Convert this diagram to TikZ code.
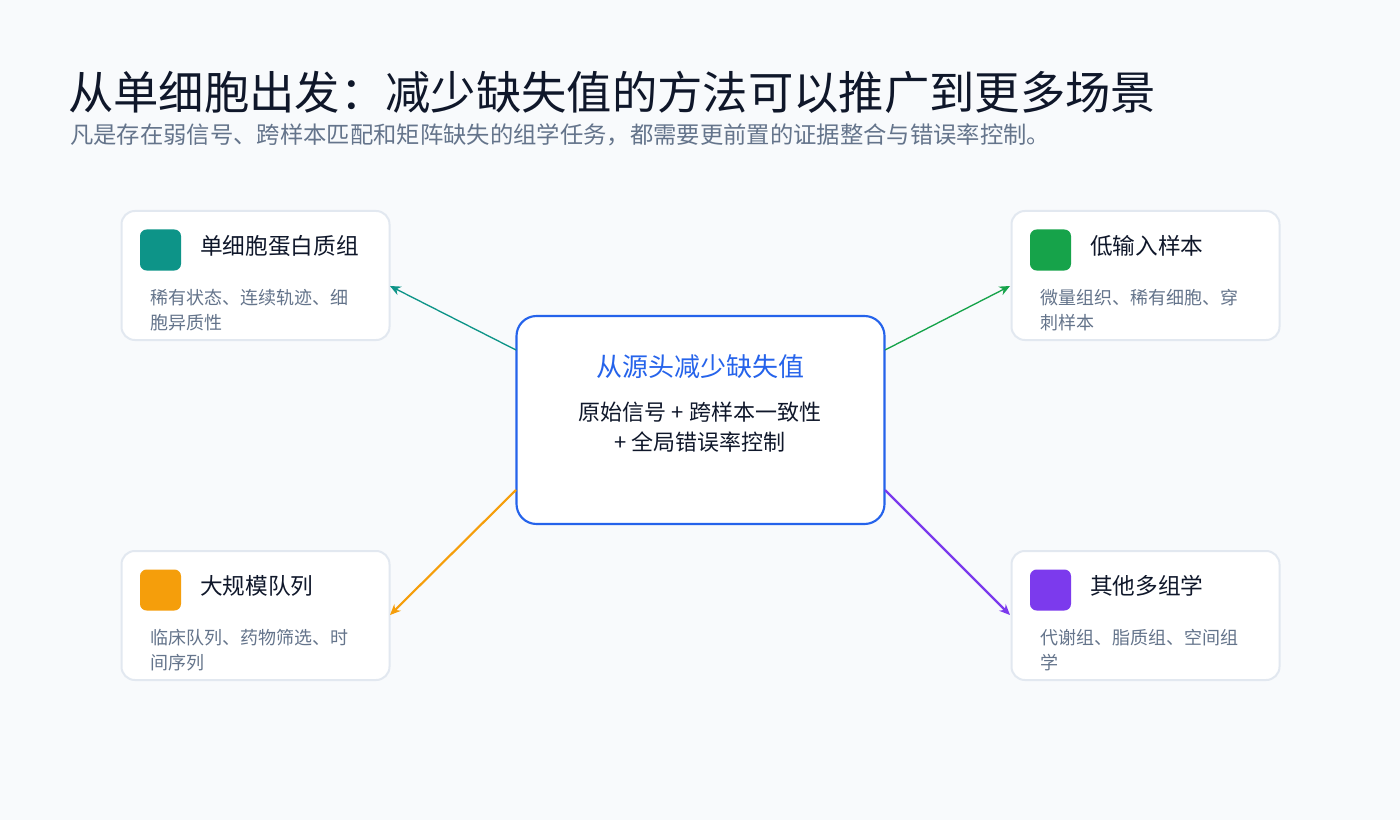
\documentclass[tikz,border=0pt]{standalone}
\usepackage{fontspec}
\setmainfont{Noto Sans CJK SC}
\usetikzlibrary{arrows.meta}
\definecolor{bg}{HTML}{F8FAFC}
\definecolor{ttl}{HTML}{0F172A}
\definecolor{sub}{HTML}{64748B}
\definecolor{bord}{HTML}{E2E8F0}
\definecolor{blu}{HTML}{2563EB}
\definecolor{cteal}{HTML}{0D9488}
\definecolor{cgreen}{HTML}{16A34A}
\definecolor{corange}{HTML}{F59E0B}
\definecolor{cpurple}{HTML}{7C3AED}
\tikzset{
 card/.style={draw=bord,line width=1.5pt,fill=white,rounded corners=10pt,minimum width=201pt,minimum height=96.75pt,inner sep=0pt},
 icon/.style={rounded corners=5pt,minimum size=30.75pt,inner sep=0pt},
 cardtitle/.style={anchor=west,text=ttl,font=\fontsize{17}{20}\selectfont,inner sep=0pt},
 carddesc/.style={anchor=north west,text=sub,font=\fontsize{13.5}{18.5}\selectfont,inner sep=0pt,align=left},
 conn/.style={-{Stealth[length=8pt,width=7pt]}}
}
\begin{document}
\begin{tikzpicture}[x=0.75pt,y=-0.75pt]
\fill[bg] (0,0) rectangle (1400,820);
\useasboundingbox (0,0) rectangle (1400,820);
\node[anchor=west,text=ttl,font=\fontsize{34}{40}\selectfont,inner sep=0pt] (title) at (68,92) {从单细胞出发：减少缺失值的方法可以推广到更多场景};
\node[anchor=west,text=sub,font=\fontsize{17.5}{21}\selectfont,inner sep=0pt] (subtitle) at (70,135) {凡是存在弱信号、跨样本匹配和矩阵缺失的组学任务，都需要更前置的证据整合与错误率控制。};
% center
\node[draw=blu,line width=1.6pt,fill=white,rounded corners=15pt,minimum width=276pt,minimum height=156pt] (c) at (700.5,420) {};
\node[text=blu,font=\fontsize{19.5}{22}\selectfont,inner sep=0pt] (ct) at (700,367) {从源头减少缺失值};
\node[text=ttl,font=\fontsize{16.5}{22}\selectfont,inner sep=0pt,align=center] (cd) at (700,427) {原始信号 + 跨样本一致性\\+ 全局错误率控制};
% cards
\node[card] (b1) at (255.5,275.5) {};
\node[card] (b2) at (1145.5,275.5) {};
\node[card] (b3) at (255.5,615.5) {};
\node[card] (b4) at (1145.5,615.5) {};
\node[icon,fill=cteal] (i1) at (160.5,250) {};
\node[icon,fill=cgreen] (i2) at (1050.5,250) {};
\node[icon,fill=corange] (i3) at (160.5,590) {};
\node[icon,fill=cpurple] (i4) at (1050.5,590) {};
\node[cardtitle] (t1) at (200,246) {单细胞蛋白质组};
\node[cardtitle] (t2) at (1090,246) {低输入样本};
\node[cardtitle] (t3) at (200,586) {大规模队列};
\node[cardtitle] (t4) at (1090,586) {其他多组学};
\node[carddesc] (d1) at (150,289) {稀有状态、连续轨迹、细\\胞异质性};
\node[carddesc] (d2) at (1040,289) {微量组织、稀有细胞、穿\\刺样本};
\node[carddesc] (d3) at (150,629) {临床队列、药物筛选、时\\间序列};
\node[carddesc] (d4) at (1040,629) {代谢组、脂质组、空间组\\学};
% connectors
\coordinate (s1) at (516,350); \coordinate (e1) at (390,286);
\coordinate (s2) at (885,350); \coordinate (e2) at (1010,286);
\coordinate (s3) at (516,490); \coordinate (e3) at (390,615);
\coordinate (s4) at (885,490); \coordinate (e4) at (1010,615);
\draw[conn,cteal,line width=1pt] (s1) -- (e1);
\draw[conn,cgreen,line width=1pt] (s2) -- (e2);
\draw[conn,corange,line width=1.6pt] (s3) -- (e3);
\draw[conn,cpurple,line width=1.8pt] (s4) -- (e4);
\end{tikzpicture}
\end{document}
